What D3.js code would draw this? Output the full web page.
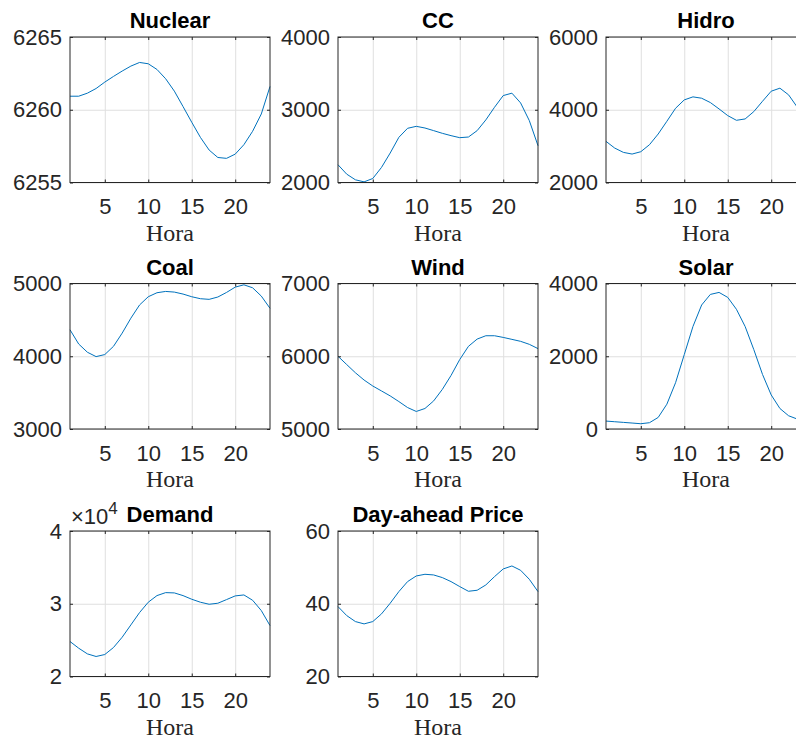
<!DOCTYPE html>
<html>
<head>
<meta charset="utf-8">
<script src="https://cdn.jsdelivr.net/npm/d3@7"></script>
<style>
  body { margin: 0; background: #fff; }
  svg { display: block; }
  .tick text { font-family: 'Liberation Sans', Arial, Helvetica, sans-serif; font-size: 22px; fill: #262626; }
  .grid line { stroke: #dfdfdf; stroke-width: 1; }
  .grid path, .grid text { display: none; }
  .ax path { display: none; }
  .ax line { stroke: #262626; }
</style>
</head>
<body>
<svg id="chart" width="796" height="738"></svg>
<script>
// Hours and series
const hours = d3.range(1, 25);
const xTicks = [5, 10, 15, 20];

const nuclear = [6260.93, 6260.93, 6261.14, 6261.46, 6261.9, 6262.29, 6262.66, 6263.0, 6263.25, 6263.16, 6262.77, 6262.13,
  6261.28, 6260.22, 6259.14, 6258.1, 6257.23, 6256.72, 6256.66, 6256.95, 6257.6, 6258.52, 6259.71, 6261.6];
const cc = [2244, 2115, 2037, 2009, 2055, 2207, 2405, 2621, 2745, 2772, 2749, 2713,
  2676, 2644, 2616, 2625, 2713, 2860, 3034, 3195, 3228, 3094, 2851, 2506];
const hidro = [3131, 2947, 2828, 2782, 2846, 3039, 3333, 3683, 4041, 4271, 4354, 4317,
  4198, 4023, 3839, 3710, 3747, 3949, 4234, 4510, 4593, 4409, 4069, 3600];
const coal = [4364, 4168, 4055, 3995, 4023, 4136, 4318, 4523, 4705, 4818, 4873, 4891,
  4882, 4855, 4818, 4791, 4782, 4814, 4877, 4950, 4982, 4941, 4827, 4659];
const wind = [6000, 5886, 5773, 5673, 5591, 5523, 5455, 5377, 5295, 5241, 5282, 5386,
  5545, 5736, 5955, 6136, 6236, 6282, 6282, 6259, 6232, 6205, 6164, 6105];
const solar = [218, 200, 182, 164, 145, 173, 318, 682, 1273, 2045, 2818, 3409,
  3700, 3755, 3618, 3291, 2818, 2182, 1500, 936, 564, 364, 273, 240];
const demand = [24810, 23890, 23110, 22750, 23020, 23980, 25400, 27090, 28790, 30210, 31120, 31530,
  31490, 31120, 30620, 30210, 29930, 30070, 30570, 31080, 31210, 30480, 29060, 27000];
const price = [39.22, 36.75, 35.1, 34.46, 35.1, 37.2, 40.14, 43.34, 46.09, 47.64, 48.1, 47.92,
  47.19, 46.09, 44.72, 43.43, 43.71, 45.17, 47.46, 49.57, 50.39, 49.2, 46.73, 43.34];

const titles = ['Nuclear', 'CC', 'Hidro', 'Coal', 'Wind', 'Solar', 'Demand', 'Day-ahead Price'];
const seriesList = [nuclear, cc, hidro, coal, wind, solar, demand, price];
const yTickList = [[6255, 6260, 6265], [2000, 3000, 4000], [2000, 4000, 6000], [3000, 4000, 5000],
  [5000, 6000, 7000], [0, 2000, 4000], [20000, 30000, 40000], [20, 40, 60]];

const colLeft = [70, 338, 606];
const rowTop = [37, 283.5, 531];
const W = 200, H = 145.5;

const svg = d3.select('#chart');

seriesList.forEach((data, i) => {
  const row = Math.floor(i / 3), col = i % 3;
  const g = svg.append('g').attr('transform', `translate(${colLeft[col]},${rowTop[row]})`);
  const yt = yTickList[i];
  const isDemand = titles[i] === 'Demand';

  const x = d3.scaleLinear().domain([1, 24]).range([0, W]);
  const y = d3.scaleLinear().domain([yt[0], yt[yt.length - 1]]).range([H, 0]);

  // grid
  g.append('g').attr('class', 'grid').attr('transform', `translate(0,${H})`)
    .call(d3.axisBottom(x).tickValues(xTicks).tickSize(-H));
  g.append('g').attr('class', 'grid')
    .call(d3.axisLeft(y).tickValues(yt).tickSize(-W));

  // data line
  g.append('path')
    .datum(data)
    .attr('fill', 'none')
    .attr('stroke', '#0072BD')
    .attr('stroke-width', 1)
    .attr('d', d3.line().x((d, k) => x(hours[k])).y(d => y(d)));

  // axes with inward ticks
  g.append('g').attr('class', 'ax').attr('transform', `translate(0,${H})`)
    .call(d3.axisBottom(x).tickValues(xTicks).tickSize(-3).tickPadding(16));
  g.append('g').attr('class', 'ax')
    .call(d3.axisLeft(y).tickValues(yt).tickSize(-3).tickPadding(8)
      .tickFormat(d => isDemand ? d3.format('d')(d / 10000) : d3.format('d')(d)));
  g.append('g').attr('class', 'ax')
    .call(d3.axisTop(x).tickValues(xTicks).tickSize(-3).tickFormat(''));
  g.append('g').attr('class', 'ax').attr('transform', `translate(${W},0)`)
    .call(d3.axisRight(y).tickValues(yt).tickSize(-3).tickFormat(''));

  // box
  g.append('rect')
    .attr('width', W).attr('height', H)
    .attr('fill', 'none').attr('stroke', '#262626').attr('stroke-width', 1);

  // title
  g.append('text')
    .attr('x', W / 2).attr('y', -9)
    .attr('text-anchor', 'middle')
    .attr('font-family', "'Liberation Sans', Arial, sans-serif")
    .attr('font-weight', 'bold').attr('font-size', 22)
    .attr('fill', '#000')
    .text(titles[i]);

  // xlabel
  g.append('text')
    .attr('x', W / 2).attr('y', H + 58)
    .attr('text-anchor', 'middle')
    .attr('font-family', "'Liberation Serif', 'Times New Roman', serif")
    .attr('font-size', 24)
    .attr('fill', '#262626')
    .text('Hora');

  if (isDemand) {
    const ex = g.append('text')
      .attr('x', 1).attr('y', -7)
      .attr('font-family', "'Liberation Sans', Arial, sans-serif")
      .attr('font-size', 22)
      .attr('fill', '#262626');
    ex.append('tspan').text('\u00d710');
    ex.append('tspan').attr('dy', -10).attr('font-size', 17).text('4');
  }
});
</script>
</body>
</html>
